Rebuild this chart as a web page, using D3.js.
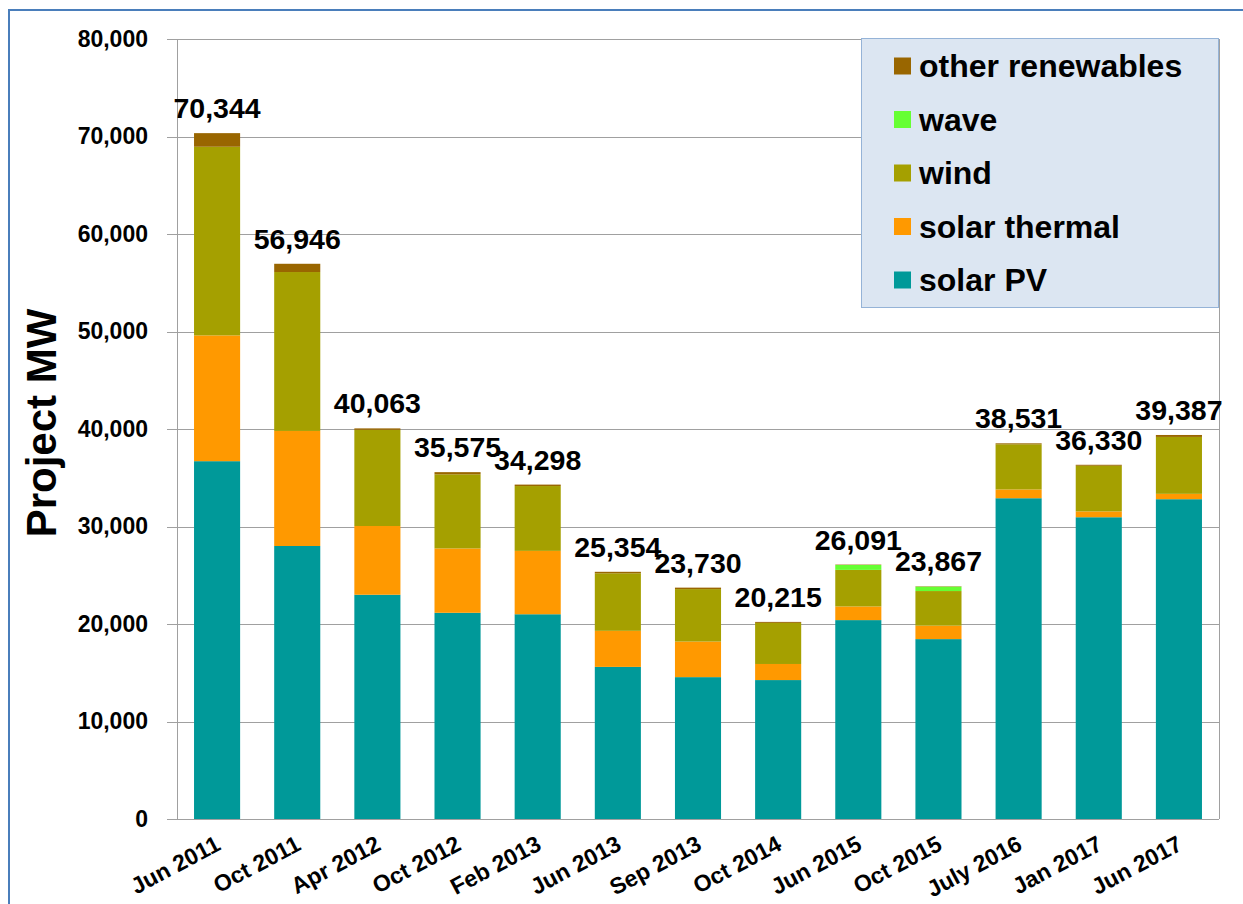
<!DOCTYPE html>
<html>
<head>
<meta charset="utf-8">
<script src="https://cdn.jsdelivr.net/npm/d3@7"></script>
<style>
  html, body { margin: 0; padding: 0; background: #ffffff; }
  svg { display: block; }
  text { font-family: "Liberation Sans", Arial, Helvetica, sans-serif; font-weight: bold; fill: #000; }
</style>
</head>
<body>
<svg id="chart" width="1243" height="904"></svg>
<script>
const categories = ["Jun 2011", "Oct 2011", "Apr 2012", "Oct 2012", "Feb 2013", "Jun 2013", "Sep 2013", "Oct 2014", "Jun 2015", "Oct 2015", "July 2016", "Jan 2017", "Jun 2017"];
const solarPV      = [36700, 28000, 23000, 21150, 21000, 15600, 14550, 14250, 20400, 18450, 32900, 30950, 32800];
const solarThermal = [12900, 11800,  7050,  6600,  6500,  3700,  3650,  1650,  1400,  1380,   900,   600,   550];
const wind         = [19350, 16300,  9863,  7600,  6650,  5900,  5380,  4215,  3750,  3550,  4631,  4680,  5837];
const wave         = [    0,     0,     0,     0,     0,     0,     0,     0,   500,   450,     0,     0,     0];
const otherRenew   = [ 1394,   846,   150,   225,   148,   154,   150,   100,    41,    37,   100,   100,   200];
const totals       = [70344, 56946, 40063, 35575, 34298, 25354, 23730, 20215, 26091, 23867, 38531, 36330, 39387];
const yTicks = [0, 10000, 20000, 30000, 40000, 50000, 60000, 70000, 80000];
const seriesNames = ["solar PV", "solar thermal", "wind", "wave", "other renewables"];
const seriesColors = ["#009999", "#ff9900", "#a5a000", "#66ff33", "#996600"];
const yTitle = "Project MW";

(function () {
const seriesValues = [solarPV, solarThermal, wind, wave, otherRenew];
const rows = categories.map((c, i) => {
  const r = { cat: c };
  seriesNames.forEach((s, k) => r[s] = seriesValues[k][i]);
  return r;
});

const svg = d3.select("#chart");
const pLeft = 177, pRight = 1219, pTop = 39, pBottom = 819;

const x = d3.scaleBand().domain(categories).range([pLeft, pRight]).paddingInner(0.425).paddingOuter(0.2125);
const y = d3.scaleLinear().domain([0, 80000]).range([pBottom, pTop]);

// outer border
svg.append("rect").attr("x", 9).attr("y", 10).attr("width", 1250).attr("height", 910)
  .attr("fill", "none").attr("stroke", "#4a7ebb").attr("stroke-width", 2);

// gridlines
svg.append("g").selectAll("line").data(yTicks).join("line")
  .attr("x1", pLeft - 10).attr("x2", pRight)
  .attr("y1", d => Math.round(y(d)) + 0.5).attr("y2", d => Math.round(y(d)) + 0.5)
  .attr("stroke", "#a0a0a0").attr("stroke-width", 1);

// plot side borders
svg.append("line").attr("x1", pLeft + 0.5).attr("x2", pLeft + 0.5).attr("y1", pTop).attr("y2", pBottom)
  .attr("stroke", "#a0a0a0");
svg.append("line").attr("x1", pRight + 0.5).attr("x2", pRight + 0.5).attr("y1", pTop).attr("y2", pBottom)
  .attr("stroke", "#a0a0a0");

// y axis labels
const yAxis = d3.axisLeft(y).tickValues(yTicks).tickSize(0).tickPadding(29)
  .tickFormat(d3.format(","));
const gy = svg.append("g").attr("transform", `translate(${pLeft},0)`).call(yAxis);
gy.select(".domain").remove();
gy.selectAll("text").style("font-size", "23px").style("font-family", "'Liberation Sans', Arial, sans-serif")
  .style("font-weight", "bold").attr("fill", "#000");

// y title
svg.append("text").attr("transform", `translate(56,423) rotate(-90)`)
  .attr("text-anchor", "middle").style("font-size", "42px").text(yTitle);

// stacked bars
const stack = d3.stack().keys(seriesNames);
const stacked = stack(rows);
svg.append("g").selectAll("g").data(stacked).join("g")
  .attr("fill", (d, i) => seriesColors[i])
  .selectAll("rect").data(d => d).join("rect")
  .attr("x", d => x(d.data.cat))
  .attr("width", x.bandwidth())
  .attr("y", d => y(d[1]))
  .attr("height", d => Math.max(0, y(d[0]) - y(d[1])));

// total labels
svg.append("g").selectAll("text").data(categories).join("text")
  .attr("x", d => x(d) + x.bandwidth() / 2)
  .attr("y", (d, i) => y(totals[i]) - 15)
  .attr("text-anchor", "middle").style("font-size", "28.5px")
  .text((d, i) => d3.format(",")(totals[i]));

// x labels
svg.append("g").selectAll("text").data(categories).join("text")
  .attr("transform", d => `translate(${x(d) + x.bandwidth() / 2 + 5},${pBottom + 30}) rotate(-28)`)
  .attr("text-anchor", "end").style("font-size", "23px")
  .text(d => d);

// legend
const lg = svg.append("g");
lg.append("rect").attr("x", 861.5).attr("y", 38.5).attr("width", 357).attr("height", 269)
  .attr("fill", "#dce6f2").attr("stroke", "#95b3d7").attr("stroke-width", 1);
const legendOrder = [4, 3, 2, 1, 0];
const li = lg.selectAll("g.item").data(legendOrder).join("g").attr("class", "item")
  .attr("transform", (d, j) => `translate(894,${66 + j * 53.5})`);
li.append("rect").attr("x", 0).attr("y", -8.5).attr("width", 17).attr("height", 17)
  .attr("fill", d => seriesColors[d]);
li.append("text").attr("x", 25).attr("y", 11).style("font-size", "32px")
  .text(d => seriesNames[d]);
})();
</script>
</body>
</html>
